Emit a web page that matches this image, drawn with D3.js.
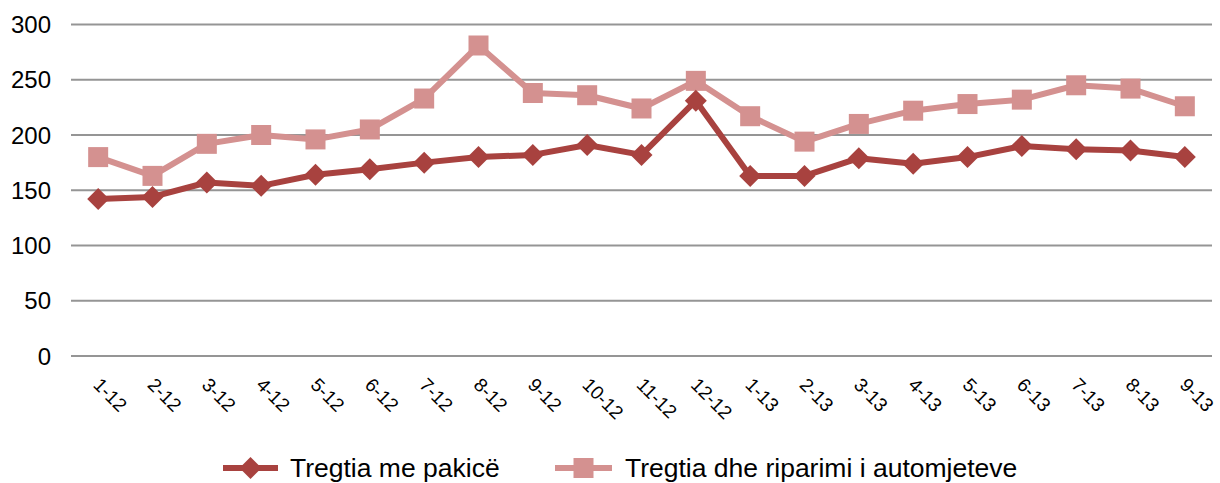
<!DOCTYPE html>
<html>
<head>
<meta charset="utf-8">
<script src="https://cdn.jsdelivr.net/npm/d3@7"></script>
<style>
  html, body { margin: 0; padding: 0; background: #fff; }
  text { font-family: "Liberation Sans", Arial, sans-serif; fill: #000; }
</style>
</head>
<body>
<div id="chart"></div>
<script>
// months, as labelled on the x axis
var months = ["1-12", "2-12", "3-12", "4-12", "5-12", "6-12", "7-12", "8-12", "9-12", "10-12", "11-12",
              "12-12", "1-13", "2-13", "3-13", "4-13", "5-13", "6-13", "7-13", "8-13", "9-13"];

var retail = [142, 144, 157, 154, 164, 169, 175, 180, 182, 191, 182,
              231, 163, 163, 179, 174, 180, 190, 187, 186, 180];

var vehicles = [180, 163, 192, 200, 196, 205, 233, 281, 238, 236, 224,
                249, 217, 194, 210, 222, 228, 232, 245, 242, 226];

var yTicks = [0, 50, 100, 150, 200, 250, 300];

var seriesNames = ["Tregtia me pakicë", "Tregtia dhe riparimi i automjeteve"];

var width = 1220,
    height = 483;

var svg = d3.select("#chart").append("svg")
    .attr("width", width)
    .attr("height", height);

var x = d3.scaleBand()
    .domain(months)
    .range([71, 1212]);

var y = d3.scaleLinear()
    .domain([0, 300])
    .range([356, 24.5]);

// grid lines
svg.append("g")
  .selectAll("line")
  .data(yTicks)
  .join("line")
    .attr("x1", 71)
    .attr("x2", 1212)
    .attr("y1", d => y(d))
    .attr("y2", d => y(d))
    .attr("stroke", "#959595")
    .attr("stroke-width", 2);

// y labels
svg.append("g")
  .selectAll("text")
  .data(yTicks)
  .join("text")
    .attr("x", 51)
    .attr("y", d => y(d) + 8.5)
    .attr("text-anchor", "end")
    .style("font-size", "24px")
    .text(d => d);

// x labels, rotated
svg.append("g")
  .selectAll("text")
  .data(months)
  .join("text")
    .attr("transform", d => {
      var cx = x(d) + x.bandwidth() / 2 - 6;
      return "translate(" + cx + ",386) rotate(45)";
    })
    .style("font-size", "19px")
    .text(d => d);

var line = d3.line()
    .x((d, i) => x(months[i]) + x.bandwidth() / 2)
    .y(d => y(d));

var light = "#D49190",
    dark = "#A8423F";

function diamond(s, cx, cy, r) {
  s.append("path")
    .attr("d", "M" + cx + "," + (cy - r) + "L" + (cx + r) + "," + cy +
               "L" + cx + "," + (cy + r) + "L" + (cx - r) + "," + cy + "Z")
    .attr("fill", dark);
}

// light series (drawn first, sits behind)
svg.append("path")
    .datum(vehicles)
    .attr("d", line)
    .attr("fill", "none")
    .attr("stroke", light)
    .attr("stroke-width", 6)
    .attr("stroke-linejoin", "round");

svg.append("g")
  .selectAll("rect")
  .data(vehicles)
  .join("rect")
    .attr("x", (d, i) => x(months[i]) + x.bandwidth() / 2 - 10)
    .attr("y", d => y(d) - 10)
    .attr("width", 20)
    .attr("height", 20)
    .attr("fill", light);

svg.append("path")
    .datum(retail)
    .attr("d", line)
    .attr("fill", "none")
    .attr("stroke", dark)
    .attr("stroke-width", 6)
    .attr("stroke-linejoin", "round");

var dg = svg.append("g");
retail.forEach((d, i) => diamond(dg, x(months[i]) + x.bandwidth() / 2, y(d), 11));

// legend
var legend = svg.append("g");

legend.append("line")
    .attr("x1", 223).attr("x2", 278)
    .attr("y1", 468).attr("y2", 468)
    .attr("stroke", dark).attr("stroke-width", 6);
diamond(legend, 250.5, 468, 11);
legend.append("text")
    .attr("x", 290).attr("y", 477)
    .style("font-size", "26.5px")
    .text(seriesNames[0]);

legend.append("line")
    .attr("x1", 555).attr("x2", 612)
    .attr("y1", 468).attr("y2", 468)
    .attr("stroke", light).attr("stroke-width", 6);
legend.append("rect")
    .attr("x", 573.5).attr("y", 458)
    .attr("width", 20).attr("height", 20)
    .attr("fill", light);
legend.append("text")
    .attr("x", 625).attr("y", 477)
    .style("font-size", "26.5px")
    .text(seriesNames[1]);
</script>
</body>
</html>
